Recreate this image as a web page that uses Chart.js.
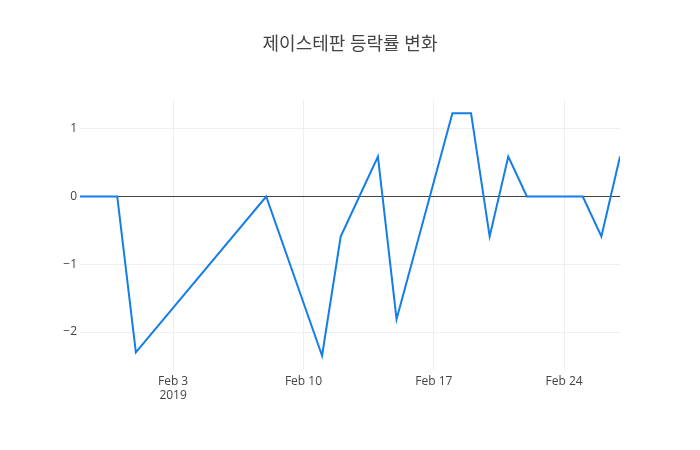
<!DOCTYPE html>
<html>
<head>
<meta charset="utf-8">
<script src="https://cdn.jsdelivr.net/npm/chart.js@4.4.1/dist/chart.umd.min.js"></script>
<style>
  html, body { margin: 0; padding: 0; background: #fff; }
  #wrap { width: 700px; height: 450px; position: relative; }
</style>
</head>
<body>
<div id="wrap"><canvas id="c"></canvas></div>
<script>
const titleText = '제이스테판 등락률 변화';
const dates = ['2019-01-29','2019-01-30','2019-01-31','2019-02-01','2019-02-08','2019-02-11','2019-02-12','2019-02-13','2019-02-14','2019-02-15','2019-02-18','2019-02-19','2019-02-20','2019-02-21','2019-02-22','2019-02-25','2019-02-26','2019-02-27'];
const changes = [0, 0, 0, -2.30, 0, -2.35, -0.59, 0, 0.59, -1.81, 1.23, 1.23, -0.59, 0.59, 0, 0, -0.59, 0.59];
const xTickDates = ['2019-02-03','2019-02-10','2019-02-17','2019-02-24'];
const xTickLabels = [['Feb 3','2019'], 'Feb 10', 'Feb 17', 'Feb 24'];
const yTicks = [-2, -1, 0, 1];

const toMs = s => Date.parse(s + 'T00:00:00Z');
const points = dates.map((d, i) => ({ x: toMs(d), y: changes[i] }));
const tickMs = xTickDates.map(toMs);

const fontFam = "'Open Sans', 'Noto Sans CJK KR', sans-serif";

const titlePlugin = {
  id: 'plotTitle',
  afterDraw(chart) {
    const ctx = chart.ctx;
    ctx.save();
    ctx.font = "18px " + fontFam;
    ctx.fillStyle = '#444';
    ctx.textAlign = 'center';
    ctx.textBaseline = 'middle';
    ctx.fillText(titleText, 350, 45);
    ctx.restore();
  }
};

new Chart(document.getElementById('c'), {
  type: 'line',
  data: {
    datasets: [{
      data: points,
      borderColor: 'rgb(20,125,232)',
      borderWidth: 2,
      pointRadius: 0,
      tension: 0,
      fill: false
    }]
  },
  options: {
    responsive: true,
    maintainAspectRatio: false,
    animation: false,
    layout: { padding: { left: 0, right: 80, top: 100, bottom: 0 } },
    plugins: { legend: { display: false }, title: { display: false }, tooltip: { enabled: false } },
    scales: {
      x: {
        type: 'linear',
        min: toMs('2019-01-29'),
        max: toMs('2019-02-27'),
        afterBuildTicks(scale) { scale.ticks = tickMs.map(v => ({ value: v })); },
        afterFit(scale) { scale.height = 80; },
        grid: { color: '#eee', lineWidth: 1, drawTicks: false },
        border: { display: false },
        ticks: {
          padding: 4,
          color: '#444',
          font: { family: fontFam, size: 12 },
          maxRotation: 0,
          autoSkip: false,
          callback(v) { const i = tickMs.indexOf(v); return i >= 0 ? xTickLabels[i] : ''; }
        }
      },
      y: {
        type: 'linear',
        min: -2.56,
        max: 1.424,
        afterBuildTicks(scale) { scale.ticks = yTicks.map(v => ({ value: v })); },
        afterFit(scale) { scale.width = 80; },
        grid: {
          color: ctx => (ctx.tick && ctx.tick.value === 0) ? '#444' : '#eee',
          lineWidth: 1,
          drawTicks: false
        },
        border: { display: false },
        ticks: {
          padding: 3,
          color: '#444',
          font: { family: fontFam, size: 12 },
          callback(v) { return v < 0 ? '\u2212' + Math.abs(v) : String(v); }
        }
      }
    }
  },
  plugins: [titlePlugin]
});
</script>
</body>
</html>
